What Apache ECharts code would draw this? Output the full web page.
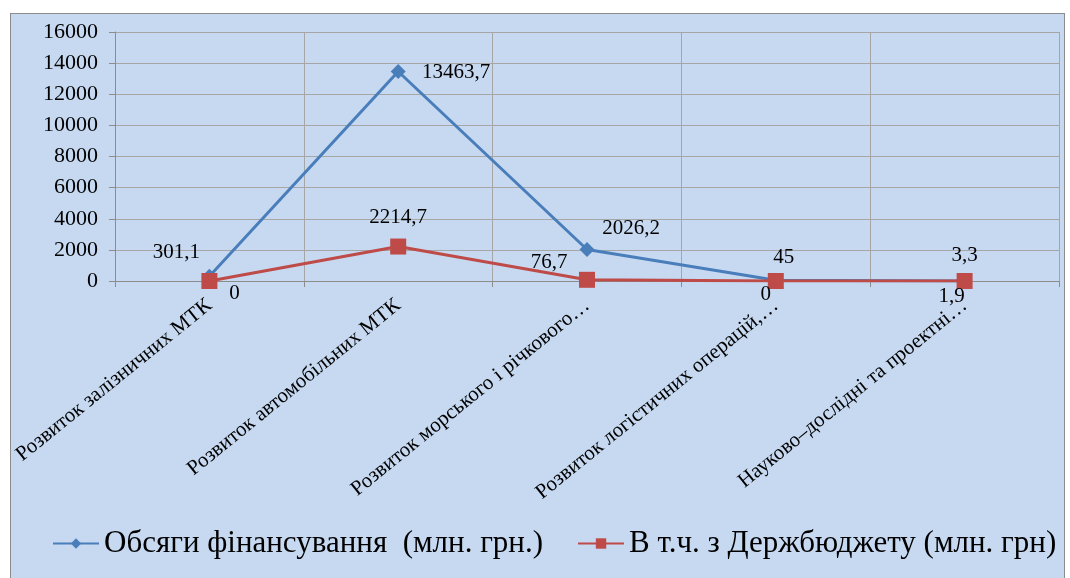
<!DOCTYPE html>
<html>
<head>
<meta charset="utf-8">
<script src="https://cdn.jsdelivr.net/npm/echarts@6/dist/echarts.min.js"></script>
<style>
  html, body { margin: 0; padding: 0; background: #fff; }
  #frame {
    position: absolute; left: 10px; top: 13px; width: 1055px; height: 570px;
    background: #c6d9f1; border: 1px solid #8c8c8c; box-sizing: border-box;
  }
  #chart { position: absolute; left: 0; top: 0; width: 1070px; height: 578px; }
</style>
</head>
<body>
<div id="frame"></div>
<div id="chart"></div>
<script>
// categories (as shown, truncated in the original)
const categories = [
  'Розвиток залізничних МТК',
  'Розвиток автомобільних МТК',
  'Розвиток морського і річкового…',
  'Розвиток логістичних операцій,…',
  'Науково–дослідні та проектні…'
];
const financing = [301.1, 13463.7, 2026.2, 45, 3.3];
const stateBudget = [0, 2214.7, 76.7, 0, 1.9];
const yTicks = { min: 0, max: 16000, interval: 2000 };

// label offsets from point centre
const financingOffsets = [[-33, -24], [58, 1], [44, -21], [8, -23], [0, -25]];
const budgetOffsets = [[25, 12], [0, -29], [-38, -17], [-10, 13], [-13, 16]];

const fmt = v => String(v).replace('.', ',');
const serif = 'Liberation Serif';

function withLabels(values, offsets) {
  return values.map((v, i) => ({
    value: v,
    label: { offset: offsets[i] }
  }));
}

const chart = echarts.init(document.getElementById('chart'));
chart.setOption({
  animation: false,
  textStyle: { fontFamily: serif },
  grid: { left: 115, right: 11, top: 32, bottom: 297 },
  xAxis: {
    type: 'category',
    data: categories,
    boundaryGap: true,
    axisLine: { lineStyle: { color: '#8c8c8c', width: 1 } },
    axisTick: { show: true, interval: 0, length: 6, lineStyle: { color: '#8c8c8c' } },
    splitLine: { show: true, interval: 0, lineStyle: { color: '#a6a6a6', width: 1 } },
    axisLabel: {
      interval: 0, rotate: 39, margin: 22,
      color: '#000', fontFamily: serif, fontSize: 21
    }
  },
  yAxis: {
    type: 'value',
    min: yTicks.min, max: yTicks.max, interval: yTicks.interval,
    axisLine: { show: true, lineStyle: { color: '#8c8c8c' } },
    axisTick: { show: true, length: 6, lineStyle: { color: '#8c8c8c' } },
    splitLine: { lineStyle: { color: '#a6a6a6', width: 1 } },
    axisLabel: {
      color: '#000', fontFamily: serif, fontSize: 22, margin: 17,
      formatter: v => String(v)
    }
  },
  legend: {
    left: 47, top: 523,
    itemWidth: 46, itemHeight: 13, itemGap: 34,
    textStyle: { color: '#000', fontFamily: serif, fontSize: 31 }
  },
  series: [
    {
      name: 'Обсяги фінансування  (млн. грн.)',
      type: 'line',
      data: withLabels(financing, financingOffsets),
      symbol: 'diamond', symbolSize: 15,
      lineStyle: { color: '#4a7ebb', width: 3 },
      itemStyle: { color: '#4a7ebb' },
      label: {
        show: true, position: 'inside', color: '#000',
        fontFamily: serif, fontSize: 21,
        formatter: p => fmt(p.value)
      }
    },
    {
      name: 'В т.ч. з Держбюджету (млн. грн)',
      type: 'line',
      data: withLabels(stateBudget, budgetOffsets),
      symbol: 'rect', symbolSize: 16,
      lineStyle: { color: '#be4b48', width: 3 },
      itemStyle: { color: '#be4b48' },
      label: {
        show: true, position: 'inside', color: '#000',
        fontFamily: serif, fontSize: 21,
        formatter: p => fmt(p.value)
      }
    }
  ]
});
</script>
</body>
</html>
